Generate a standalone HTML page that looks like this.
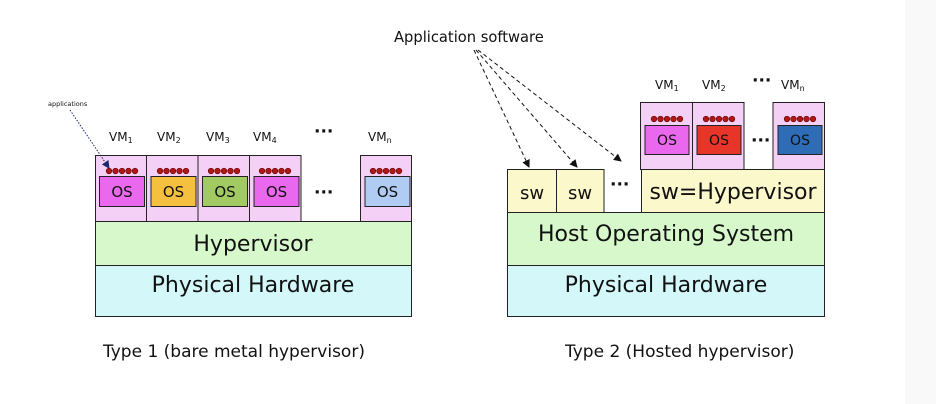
<!DOCTYPE html>
<html><head><meta charset="utf-8"><style>
html,body{margin:0;padding:0;background:#fff;}
svg{display:block;}
text{font-family:"DejaVu Sans","Liberation Sans",sans-serif;fill:#111;}
</style></head><body>
<svg width="936" height="404" viewBox="0 0 936 404" xmlns="http://www.w3.org/2000/svg">
<defs>
<marker id="ah" markerWidth="8" markerHeight="8" refX="7" refY="4" orient="auto" markerUnits="userSpaceOnUse"><path d="M0,0 L8,4 L0,8 z" fill="#111"/></marker>
<marker id="ahb" markerWidth="8" markerHeight="8" refX="7" refY="4" orient="auto" markerUnits="userSpaceOnUse"><path d="M0,0 L8,4 L0,8 z" fill="#1a2a6a"/></marker>
<g id="dots"><circle cx="0" cy="0" r="2.8" fill="#b01818" stroke="#600" stroke-width="0.6"/><circle cx="6.5" cy="0" r="2.8" fill="#b01818" stroke="#600" stroke-width="0.6"/><circle cx="13" cy="0" r="2.8" fill="#b01818" stroke="#600" stroke-width="0.6"/><circle cx="19.5" cy="0" r="2.8" fill="#b01818" stroke="#600" stroke-width="0.6"/><circle cx="26" cy="0" r="2.8" fill="#b01818" stroke="#600" stroke-width="0.6"/></g>
</defs>
<rect x="905" y="0" width="31" height="404" fill="#f9f9f9"/>

<!-- LEFT -->
<text x="48" y="106" font-size="6.5">applications</text>
<g font-size="12">
<text x="109" y="141">VM<tspan font-size="8" dy="2">1</tspan></text>
<text x="157" y="141">VM<tspan font-size="8" dy="2">2</tspan></text>
<text x="206" y="141">VM<tspan font-size="8" dy="2">3</tspan></text>
<text x="253" y="141">VM<tspan font-size="8" dy="2">4</tspan></text>
<text x="368" y="141">VM<tspan font-size="8" dy="2">n</tspan></text>
</g>
<text x="314" y="137" font-size="17" font-weight="bold">···</text>
<text x="314" y="198" font-size="17" font-weight="bold">···</text>
<g stroke="#222" stroke-width="1">
<rect x="95.5" y="155.5" width="51" height="66" fill="#f4d0f7"/>
<rect x="146.5" y="155.5" width="51.5" height="66" fill="#f4d0f7"/>
<rect x="198" y="155.5" width="51.5" height="66" fill="#f4d0f7"/>
<rect x="249.5" y="155.5" width="51.5" height="66" fill="#f4d0f7"/>
<rect x="360.5" y="155.5" width="51" height="66" fill="#f4d0f7"/>
<rect x="99.5" y="176.5" width="45" height="30" fill="#ea68ee"/>
<rect x="151" y="176.5" width="45" height="30" fill="#f5c040"/>
<rect x="202.5" y="176.5" width="45" height="30" fill="#a2ca62"/>
<rect x="254" y="176.5" width="45" height="30" fill="#ea68ee"/>
<rect x="365" y="176.5" width="45" height="30" fill="#b0ccf2"/>
<rect x="95.5" y="221.5" width="316" height="44" fill="#d6f8ca"/>
<rect x="95.5" y="265.5" width="316" height="51" fill="#d4f8fa"/>
</g>
<line x1="70" y1="110" x2="109" y2="168" stroke="#1a2a6a" stroke-width="1" stroke-dasharray="1.5,1.5" marker-end="url(#ahb)"/>
<use href="#dots" x="109" y="171"/><use href="#dots" x="160" y="171"/><use href="#dots" x="211" y="171"/><use href="#dots" x="262" y="171"/><use href="#dots" x="373" y="171"/>
<g font-size="15" text-anchor="middle">
<text x="122" y="197">OS</text><text x="173.5" y="197">OS</text><text x="225" y="197">OS</text><text x="276.5" y="197">OS</text><text x="387.5" y="197">OS</text>
</g>
<text x="253" y="251" font-size="22" text-anchor="middle">Hypervisor</text>
<text x="253" y="292" font-size="22" text-anchor="middle">Physical Hardware</text>
<text x="103" y="357" font-size="17">Type 1 (bare metal hypervisor)</text>

<!-- RIGHT -->
<text x="394" y="42" font-size="14.7">Application software</text>
<g stroke="#111" stroke-width="1" stroke-dasharray="4,3" fill="none">
<line x1="474" y1="50" x2="529" y2="167" marker-end="url(#ah)"/>
<line x1="476" y1="50" x2="577" y2="167" marker-end="url(#ah)"/>
<line x1="478" y1="50" x2="621" y2="161" marker-end="url(#ah)"/>
</g>
<g font-size="12">
<text x="655" y="89">VM<tspan font-size="8" dy="2">1</tspan></text>
<text x="702" y="89">VM<tspan font-size="8" dy="2">2</tspan></text>
<text x="781" y="89">VM<tspan font-size="8" dy="2">n</tspan></text>
</g>
<text x="752" y="86" font-size="17" font-weight="bold">···</text>
<text x="751" y="146" font-size="17" font-weight="bold">···</text>
<text x="610" y="190" font-size="17" font-weight="bold">···</text>
<g stroke="#222" stroke-width="1">
<rect x="640.5" y="102.5" width="52" height="67" fill="#f4d0f7"/>
<rect x="692.5" y="102.5" width="51.5" height="67" fill="#f4d0f7"/>
<rect x="773" y="102.5" width="51.5" height="67" fill="#f4d0f7"/>
<rect x="645" y="125.5" width="44" height="29" fill="#ea68ee"/>
<rect x="697" y="125.5" width="44" height="29" fill="#e8352a"/>
<rect x="778" y="125.5" width="44" height="29" fill="#2e6db5"/>
<rect x="507.5" y="169.5" width="49" height="43" fill="#fbf8cc"/>
<rect x="556.5" y="169.5" width="47.5" height="43" fill="#fbf8cc"/>
<rect x="641.5" y="169.5" width="183" height="43" fill="#fbf8cc"/>
<rect x="507.5" y="212.5" width="317" height="53" fill="#d6f8ca"/>
<rect x="507.5" y="265.5" width="317" height="51" fill="#d4f8fa"/>
</g>
<use href="#dots" x="654" y="119"/><use href="#dots" x="706" y="119"/><use href="#dots" x="787" y="119"/>
<g font-size="14" text-anchor="middle">
<text x="667" y="145">OS</text><text x="719" y="145">OS</text><text x="800" y="145">OS</text>
</g>
<text x="532" y="199" font-size="18" text-anchor="middle">sw</text>
<text x="580" y="199" font-size="18" text-anchor="middle">sw</text>
<text x="733" y="199" font-size="22" text-anchor="middle">sw=Hypervisor</text>
<text x="666" y="241" font-size="22" text-anchor="middle">Host Operating System</text>
<text x="666" y="292" font-size="22" text-anchor="middle">Physical Hardware</text>
<text x="565" y="357" font-size="17">Type 2 (Hosted hypervisor)</text>
</svg>
</body></html>
